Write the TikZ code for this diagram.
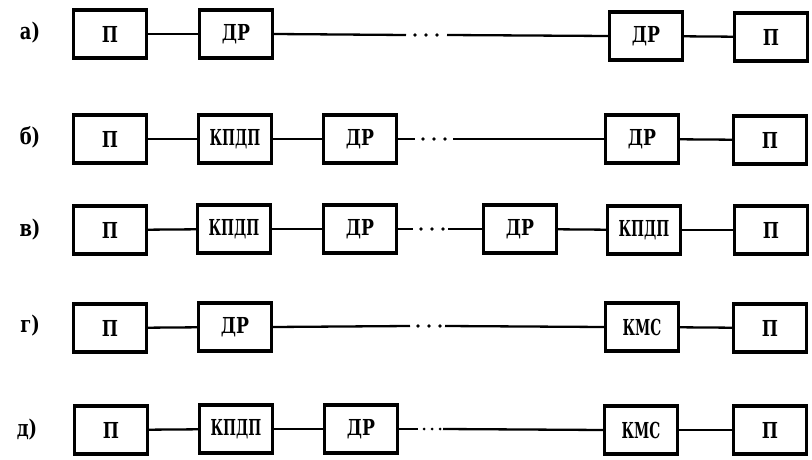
\documentclass[tikz,border=0pt]{standalone}
\usepackage{graphicx}
\usepackage{fontspec}
\setmainfont{DejaVu Serif}[FakeStretch=0.78]
\newcommand\narrowtext[1]{\scalebox{0.8}[1]{#1}}
\begin{document}
\begin{tikzpicture}[x=1pt,y=-1pt,
  box/.style={draw, line width=3.4pt, minimum width=73pt, minimum height=48pt, inner sep=0pt,
    font=\bfseries\fontsize{22}{22}\selectfont},
  link/.style={line width=2.3pt},
  lbl/.style={font=\bfseries\fontsize{23}{23}\selectfont, anchor=center},
  dotc/.style={fill, circle, inner sep=0pt, minimum size=3.6pt}]
\useasboundingbox (0,0) rectangle (812,460);

% row a
\node[lbl] (la) at (30,33) {а)};
\node[box] (a1) at (110,34) {П};
\node[box] (a2) at (236,34) {ДР};
\node[box] (a3) at (646,36) {ДР};
\node[box] (a4) at (771,37) {П};
\coordinate (as) at (406,35);
\coordinate (ae) at (447,35);
\draw[link] (a1) -- (a2);
\draw[link] (a2.east) -- (as);
\foreach \x in {415,426,437} \node[dotc] at (\x,35) {};
\draw[link] (ae) -- (a3.west);
\draw[link] (a3) -- (a4);

% row b
\node[lbl] (lb) at (30,137) {б)};
\node[box] (b1) at (110,139) {П};
\node[box] (b2) at (235,139) {\narrowtext{КПДП}};
\node[box] (b3) at (360,139) {ДР};
\node[box] (b4) at (642,139) {ДР};
\node[box] (b5) at (770,140) {П};
\coordinate (bs) at (415,139);
\coordinate (be) at (453,139);
\draw[link] (b1) -- (b2);
\draw[link] (b2) -- (b3);
\draw[link] (b3.east) -- (bs);
\foreach \x in {423,434,445} \node[dotc] at (\x,139) {};
\draw[link] (be) -- (b4.west);
\draw[link] (b4) -- (b5);

% row c
\node[lbl] (lc) at (30,230) {в)};
\node[box] (c1) at (110,230) {П};
\node[box] (c2) at (234,229) {\narrowtext{КПДП}};
\node[box] (c3) at (360,229) {ДР};
\node[box] (c4) at (520,229) {ДР};
\node[box] (c5) at (644,230) {\narrowtext{КПДП}};
\node[box] (c6) at (771,230) {П};
\coordinate (cs) at (413,229);
\coordinate (ce) at (448,229);
\draw[link] (c1) -- (c2);
\draw[link] (c2) -- (c3);
\draw[link] (c3.east) -- (cs);
\foreach \x in {421,432,443} \node[dotc] at (\x,229) {};
\draw[link] (ce) -- (c4.west);
\draw[link] (c4) -- (c5);
\draw[link] (c5) -- (c6);

% row d
\node[lbl] (ld) at (30,326) {г)};
\node[box] (d1) at (110,328) {П};
\node[box] (d2) at (235,327) {ДР};
\node[box] (d3) at (642,327) {\narrowtext{КМС}};
\node[box] (d4) at (770,328) {П};
\coordinate (ds) at (410,326);
\coordinate (de) at (445,326);
\draw[link] (d1) -- (d2);
\draw[link] (d2.east) -- (ds);
\foreach \x in {418,429,440} \node[dotc] at (\x,326) {};
\draw[link] (de) -- (d3.west);
\draw[link] (d3) -- (d4);

% row e
\node[lbl] (le) at (27,430) {д)};
\node[box] (e1) at (111,430) {П};
\node[box] (e2) at (236,429) {\narrowtext{КПДП}};
\node[box] (e3) at (361,429) {ДР};
\node[box] (e4) at (641,430) {\narrowtext{КМС}};
\node[box] (e5) at (770,430) {П};
\coordinate (es) at (418,429);
\coordinate (ee) at (443,429);
\draw[link] (e1) -- (e2);
\draw[link] (e2) -- (e3);
\draw[link] (e3.east) -- (es);
\foreach \x in {424,432,440} \node[dotc,minimum size=3pt] at (\x,429) {};
\draw[link] (ee) -- (e4.west);
\draw[link] (e4) -- (e5);
\end{tikzpicture}
\end{document}
